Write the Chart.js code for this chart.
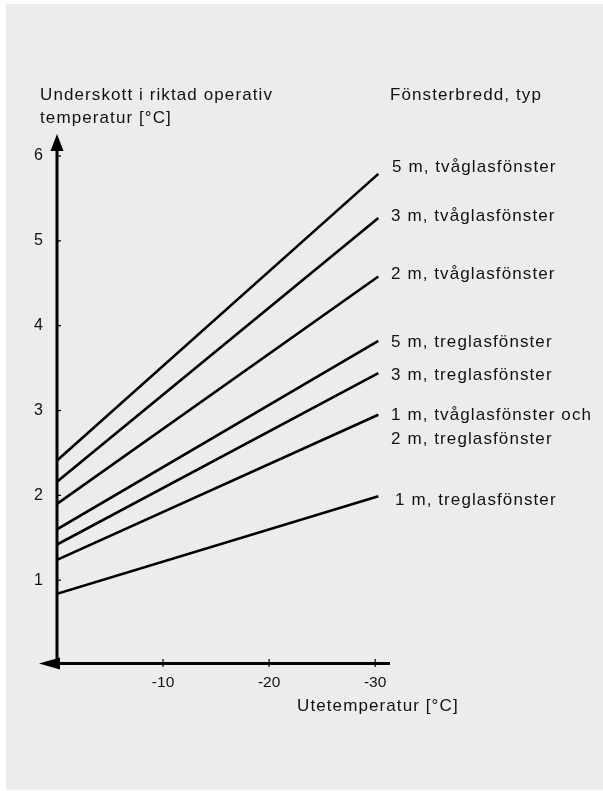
<!DOCTYPE html>
<html>
<head>
<meta charset="utf-8">
<script src="https://cdn.jsdelivr.net/npm/chart.js@4/dist/chart.umd.min.js"></script>
<style>
html,body{margin:0;padding:0;background:#fff;}
#wrap{width:603px;height:791px;position:relative;}
</style>
</head>
<body>
<div id="wrap"><canvas id="c" width="603" height="791"></canvas></div>
<script>
// ---- data ----
const seriesLabels = [
  "5 m, tvåglasfönster",
  "3 m, tvåglasfönster",
  "2 m, tvåglasfönster",
  "5 m, treglasfönster",
  "3 m, treglasfönster",
  "1 m, tvåglasfönster och\n2 m, treglasfönster",
  "1 m, treglasfönster"
];
const outdoorTemps = [0, -30.3];            // x of line start / end (°C)
const startValues = [2.41, 2.16, 1.90, 1.60, 1.42, 1.24, 0.84];
const endValues   = [5.79, 5.27, 4.58, 3.82, 3.44, 2.95, 1.99];
const xTickValues = [-10, -20, -30];
const yTickValues = [1, 2, 3, 4, 5, 6];
const yAxisTitle = ["Underskott i riktad operativ", "temperatur [°C]"];
const xAxisTitle = "Utetemperatur [°C]";
const legendTitle = "Fönsterbredd, typ";

// ---- style / layout ----
const labelNudge = [-7, -2, -2, 1, 2, 1, 4];
const labelX = [392, 391, 391, 391, 391, 391, 395];
const FONT = "'Liberation Sans', Arial, sans-serif";

const datasets = seriesLabels.map((lab, i) => ({
  label: lab,
  data: [{x: outdoorTemps[0], y: startValues[i]}, {x: outdoorTemps[1], y: endValues[i]}],
  borderColor: '#000',
  borderWidth: 2.6,
  pointRadius: 0,
  showLine: true,
  fill: false
}));

const decor = {
  id: 'decor',
  beforeDraw(chart) {
    const ctx = chart.ctx;
    ctx.save();
    ctx.fillStyle = '#fff';
    ctx.fillRect(0, 0, chart.width, chart.height);
    ctx.fillStyle = '#ececec';
    ctx.fillRect(6, 4, chart.width - 6, chart.height - 5);
    ctx.restore();
  },
  afterDraw(chart) {
    const ctx = chart.ctx;
    const xs = chart.scales.x, ys = chart.scales.y;
    const x0 = xs.getPixelForValue(0);
    const y0 = ys.getPixelForValue(0);
    const yTop = ys.getPixelForValue(ys.max);
    const xRight = xs.getPixelForValue(xs.min);
    ctx.save();
    ctx.strokeStyle = '#000';
    ctx.fillStyle = '#000';
    // y axis
    ctx.lineWidth = 3;
    ctx.beginPath();
    ctx.moveTo(x0, y0 + 1);
    ctx.lineTo(x0, yTop + 14);
    ctx.stroke();
    ctx.beginPath();
    ctx.moveTo(x0, yTop);
    ctx.lineTo(x0 - 6.5, yTop + 17);
    ctx.lineTo(x0 + 6.5, yTop + 17);
    ctx.closePath();
    ctx.fill();
    // x axis
    ctx.beginPath();
    ctx.moveTo(x0 - 2, y0 - 1.5);
    ctx.lineTo(xRight, y0 - 1.5);
    ctx.stroke();
    ctx.beginPath();
    ctx.moveTo(x0 - 18, y0 - 1.5);
    ctx.lineTo(x0 + 3, y0 - 7.5);
    ctx.lineTo(x0 + 3, y0 + 4.5);
    ctx.closePath();
    ctx.fill();
    // ticks
    ctx.lineWidth = 1.2;
    yTickValues.forEach(v => {
      const y = ys.getPixelForValue(v);
      ctx.beginPath();
      ctx.moveTo(x0, y);
      ctx.lineTo(x0 + 4, y);
      ctx.stroke();
    });
    xTickValues.forEach(v => {
      const x = xs.getPixelForValue(v);
      ctx.beginPath();
      ctx.moveTo(x, y0 - 6);
      ctx.lineTo(x, y0 + 2);
      ctx.stroke();
    });
    // texts
    ctx.font = '17px ' + FONT;
    try { ctx.letterSpacing = '1.1px'; } catch (e) {}
    ctx.fillStyle = '#111';
    ctx.textBaseline = 'middle';
    ctx.textAlign = 'left';
    ctx.fillText(yAxisTitle[0], 40, 95);
    ctx.fillText(yAxisTitle[1], 40, 118);
    ctx.fillText(legendTitle, 390, 95);
    ctx.fillText(xAxisTitle, 297, 706);
    seriesLabels.forEach((lab, i) => {
      const y = ys.getPixelForValue(endValues[i]) + labelNudge[i];
      lab.split('\n').forEach((line, k) => {
        ctx.fillText(line, labelX[i], y + k * 24);
      });
    });
    ctx.restore();
  }
};

new Chart(document.getElementById('c'), {
  type: 'scatter',
  data: { datasets },
  options: {
    responsive: false,
    animation: false,
    events: [],
    layout: { padding: { left: 0, right: 213, top: 134, bottom: 86 } },
    plugins: { legend: { display: false }, tooltip: { enabled: false } },
    scales: {
      x: {
        type: 'linear',
        reverse: true,
        min: -31.4,
        max: 0,
        grid: { display: false, drawTicks: false },
        border: { display: false },
        afterBuildTicks: s => { s.ticks = xTickValues.map(v => ({ value: v })); },
        afterFit: s => { s.height = 40; },
        ticks: {
          color: '#111',
          padding: 8,
          maxRotation: 0,
          font: { family: FONT, size: 15.5 },
          callback: v => String(v)
        }
      },
      y: {
        type: 'linear',
        min: 0,
        max: 6.26,
        grid: { display: false, drawTicks: false },
        border: { display: false },
        afterBuildTicks: s => { s.ticks = yTickValues.map(v => ({ value: v })); },
        afterFit: s => { s.width = 57; },
        ticks: {
          color: '#111',
          padding: 14,
          font: { family: FONT, size: 16 },
          callback: v => String(v)
        }
      }
    }
  },
  plugins: [decor]
});
</script>
</body>
</html>
